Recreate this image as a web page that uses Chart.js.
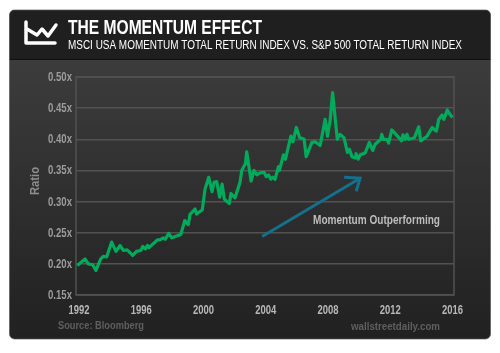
<!DOCTYPE html>
<html>
<head>
<meta charset="utf-8">
<style>
html, body { margin: 0; padding: 0; background: #fff; }
canvas { display: block; }
</style>
<script src="https://cdn.jsdelivr.net/npm/chart.js@4"></script>
</head>
<body>
<canvas id="chart" width="500" height="353"></canvas>
<script>
const chartTitle = 'THE MOMENTUM EFFECT';
const chartSubtitle = 'MSCI USA MOMENTUM TOTAL RETURN INDEX VS. S&P 500 TOTAL RETURN INDEX';
const yearTicks = [1992, 1996, 2000, 2004, 2008, 2012, 2016];

const years = [
    1991.9, 1992.39, 1992.6, 1992.88, 1993.09, 1993.4, 1993.56, 1993.78, 1994.1, 1994.38,
    1994.64, 1994.85, 1995.1, 1995.45, 1995.7, 1995.97, 1996.1, 1996.27, 1996.4, 1996.5,
    1997.04, 1997.2, 1997.42, 1997.55, 1997.77, 1997.96, 1998.54, 1998.8, 1999.03, 1999.13,
    1999.46, 1999.56, 1999.93, 2000.1, 2000.34, 2000.55, 2000.68, 2000.85, 2001.04, 2001.2,
    2001.34, 2001.66, 2001.77, 2002.03, 2002.35, 2002.46, 2002.7, 2002.78, 2003.06, 2003.25,
    2003.43, 2003.64, 2003.9, 2004.03, 2004.18, 2004.33, 2004.46, 2004.6, 2004.82, 2004.88,
    2005.14, 2005.27, 2005.62, 2005.75, 2005.97, 2006.18, 2006.47, 2006.6, 2006.97, 2007.18,
    2007.5, 2007.82, 2007.97, 2008.14, 2008.3, 2008.6, 2008.78, 2009.04, 2009.25, 2009.38,
    2009.54, 2009.75, 2009.8, 2009.94, 2010.07, 2010.39, 2010.66, 2010.88, 2011.03, 2011.4,
    2011.46, 2011.55, 2011.78, 2011.9, 2012.1, 2012.47, 2012.73, 2012.82, 2012.95, 2013.08,
    2013.18, 2013.55, 2013.83, 2013.96, 2014.37, 2014.7, 2014.85, 2014.97, 2015.12, 2015.34,
    2015.45, 2015.67, 2015.84, 2016
];
const ratios = [
    0.1975, 0.208, 0.2, 0.1986, 0.1895, 0.208, 0.212, 0.211, 0.235, 0.22,
    0.2295, 0.2215, 0.2225, 0.2135, 0.22, 0.2215, 0.228, 0.224, 0.2295, 0.226,
    0.2386, 0.2386, 0.2418, 0.2395, 0.249, 0.2418, 0.247, 0.2695, 0.263, 0.279,
    0.288, 0.28, 0.287, 0.32, 0.339, 0.316, 0.331, 0.332, 0.307, 0.328,
    0.304, 0.297, 0.313, 0.306, 0.331, 0.35, 0.361, 0.38, 0.333, 0.35,
    0.343, 0.346, 0.347, 0.34, 0.3426, 0.336, 0.339, 0.3356, 0.356, 0.35,
    0.375, 0.368, 0.405, 0.396, 0.419, 0.403, 0.4, 0.372, 0.395, 0.396,
    0.39, 0.432, 0.405, 0.43, 0.475, 0.4, 0.408, 0.402, 0.379, 0.384,
    0.372, 0.37, 0.377, 0.368, 0.375, 0.378, 0.395, 0.382, 0.392, 0.4,
    0.408, 0.4, 0.4, 0.394, 0.415, 0.405, 0.3975, 0.407, 0.4, 0.408,
    0.4, 0.402, 0.42, 0.3975, 0.405, 0.419, 0.415, 0.413, 0.432, 0.439,
    0.432, 0.447, 0.44, 0.435
];

const arrowYears = [2003.77, 2010.07];
const arrowRatios = [0.244, 0.3375];

const font = '"Liberation Sans", sans-serif';

// no narrow face is installed, so squeeze the text to the width it has in the picture
function fitText(ctx, text, x, y, width, align) {
    const natural = ctx.measureText(text).width;
    const sx = width / natural;
    const start = align === 'right' ? x - width : align === 'center' ? x - width / 2 : x;
    ctx.save();
    ctx.textAlign = 'left';
    ctx.translate(start, y);
    ctx.scale(sx, 1);
    ctx.fillText(text, 0, 0);
    ctx.restore();
}

// panel behind the plot
const panelBackground = {
    id: 'panelBackground',
    beforeDraw(chart) {
        const { ctx } = chart;
        ctx.save();
        const body = ctx.createLinearGradient(0, 60, 0, 339);
        body.addColorStop(0, '#3c3c3c');
        body.addColorStop(1, '#212121');
        ctx.beginPath();
        ctx.roundRect(9.5, 10, 481, 329, 5);
        ctx.fillStyle = body;
        ctx.fill();
        ctx.beginPath();
        ctx.roundRect(9.5, 10, 481, 50, [5, 5, 0, 0]);
        ctx.fillStyle = '#1f1f1f';
        ctx.fill();
        ctx.fillStyle = '#111';
        ctx.fillRect(9.5, 59, 481, 1);
        ctx.beginPath();
        ctx.roundRect(9.5, 10, 481, 329, 5);
        ctx.strokeStyle = '#5a5a5a';
        ctx.lineWidth = 0.7;
        ctx.stroke();

        // header icon
        ctx.strokeStyle = '#fff';
        ctx.lineWidth = 3.5;
        ctx.lineCap = 'round';
        ctx.lineJoin = 'round';
        ctx.beginPath();
        ctx.moveTo(26, 22);
        ctx.lineTo(26, 43);
        ctx.lineTo(55, 43);
        ctx.moveTo(27, 29);
        ctx.lineTo(37, 35);
        ctx.lineTo(42, 29);
        ctx.lineTo(48, 36);
        ctx.lineTo(56, 25);
        ctx.stroke();
        ctx.restore();
    }
};

// frame, arrow head, tick labels and the loose texts
const panelTexts = {
    id: 'panelTexts',
    beforeDatasetsDraw(chart) {
        const { ctx, chartArea: { left, right, top, bottom } } = chart;
        ctx.save();
        ctx.strokeStyle = '#525252';
        ctx.lineWidth = 1.5;
        ctx.strokeRect(left, top, right - left, bottom - top);
        ctx.restore();
    },
    afterDraw(chart) {
        const { ctx, scales: { x, y } } = chart;
        ctx.save();
        const tipX = x.getPixelForValue(arrowYears[1]);
        const tipY = y.getPixelForValue(arrowRatios[1]);
        ctx.strokeStyle = '#14708c';
        ctx.lineWidth = 3;
        ctx.lineCap = 'butt';
        ctx.lineJoin = 'miter';
        ctx.beginPath();
        ctx.moveTo(tipX - 16, tipY - 1);
        ctx.lineTo(tipX, tipY);
        ctx.lineTo(tipX - 4, tipY + 13);
        ctx.stroke();

        ctx.textBaseline = 'alphabetic';
        ctx.fillStyle = '#fff';
        ctx.font = 'bold 21px ' + font;
        fitText(ctx, chartTitle, 68, 34, 194);
        ctx.font = '12px ' + font;
        fitText(ctx, chartSubtitle, 68, 49, 394);

        ctx.font = 'bold 12px ' + font;
        ctx.fillStyle = '#b8b8b8';
        x.ticks.forEach(tick => {
            fitText(ctx, tick.label, x.getPixelForValue(tick.value), 314, 21, 'center');
        });
        ctx.fillStyle = '#9c9c9c';
        y.ticks.forEach(tick => {
            fitText(ctx, tick.label, 72, y.getPixelForValue(tick.value) + 4, 24, 'right');
        });

        // y axis name
        ctx.save();
        ctx.translate(39, 181);
        ctx.rotate(-Math.PI / 2);
        ctx.fillStyle = '#8f8f8f';
        ctx.font = 'bold 13px ' + font;
        fitText(ctx, 'Ratio', 0, 0, 28, 'center');
        ctx.restore();

        ctx.fillStyle = '#bdbdbd';
        ctx.font = 'bold 12px ' + font;
        fitText(ctx, 'Momentum Outperforming', 313, 224, 127);

        ctx.fillStyle = '#5f5f5f';
        ctx.font = 'bold 11px ' + font;
        fitText(ctx, 'Source: Bloomberg', 58, 329, 86);
        fitText(ctx, 'wallstreetdaily.com', 351, 330, 89);
        ctx.restore();
    }
};

new Chart(document.getElementById('chart').getContext('2d'), {
    type: 'line',
    data: {
        datasets: [{
            data: years.map((year, i) => ({ x: year, y: ratios[i] })),
            borderColor: '#00ab5b',
            borderWidth: 3.2,
            pointRadius: 0,
            tension: 0,
            borderJoinStyle: 'round',
            order: 1
        }, {
            data: arrowYears.map((year, i) => ({ x: year, y: arrowRatios[i] })),
            borderColor: '#14708c',
            borderWidth: 3,
            pointRadius: 0,
            tension: 0,
            order: 0
        }]
    },
    options: {
        responsive: false,
        animation: false,
        layout: { padding: { left: 26, right: 46, top: 77, bottom: 20 } },
        plugins: {
            legend: { display: false },
            tooltip: { enabled: false }
        },
        scales: {
            x: {
                type: 'linear',
                min: 1991.81,
                max: 2016.1,
                afterBuildTicks(axis) {
                    axis.ticks = yearTicks.map(value => ({ value }));
                },
                afterFit(axis) {
                    axis.height = 38;
                },
                grid: { display: false },
                border: { display: false },
                ticks: {
                    display: false,
                    callback: value => String(value)
                }
            },
            y: {
                min: 0.15,
                max: 0.5,
                afterFit(axis) {
                    axis.width = 50;
                },
                grid: { color: '#525252', lineWidth: 1.5, drawTicks: false },
                border: { display: false },
                ticks: {
                    display: false,
                    stepSize: 0.05,
                    callback: value => value.toFixed(2) + 'x'
                }
            }
        }
    },
    plugins: [panelBackground, panelTexts]
});
</script>
</body>
</html>
